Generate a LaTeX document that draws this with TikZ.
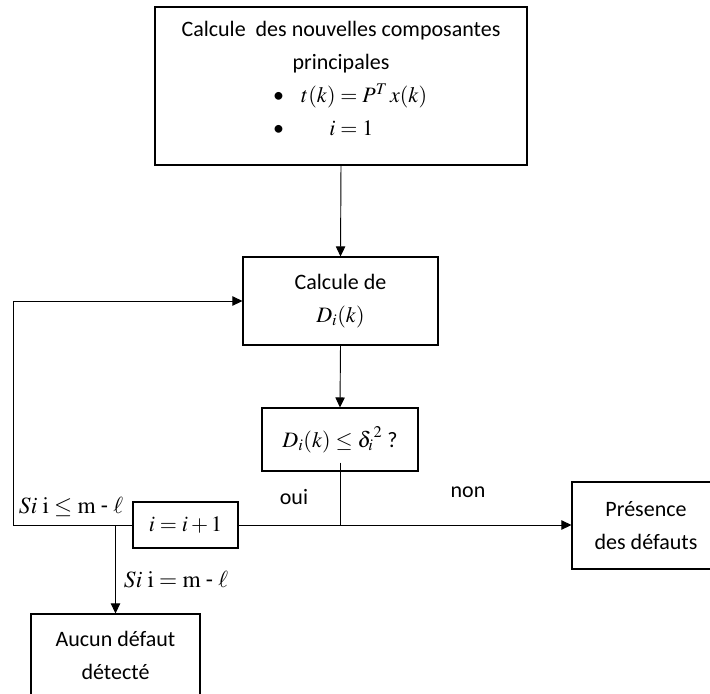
\documentclass[tikz,border=0pt]{standalone}
\usepackage{mathptmx}
\usepackage{fontspec}
\setmainfont{Carlito}
\usetikzlibrary{arrows.meta, positioning, calc}

\tikzset{
  bloc/.style={draw, line width=0.8pt, align=center, inner sep=0pt},
  fleche/.style={-{Triangle[length=7.5pt,width=7pt]}, line width=0.7pt},
  trait/.style={line width=0.7pt},
  etiq/.style={font=\fontsize{17.5}{20}\selectfont}
}

\begin{document}
\begin{tikzpicture}[x=0.75pt, y=0.75pt, font=\fontsize{16.5}{24.75}\selectfont]
  \useasboundingbox (0,0) rectangle (710,-693);

  % Blocs
  \node[bloc, minimum width=279pt, minimum height=118.5pt] (cp) at (341,-86)
    {Calcule\ \ des nouvelles composantes\\ principales\\
     \hspace*{14pt}\makebox[116pt][l]{\textbullet\hspace{13pt}$t(k)=P^{T}\,x(k)$}\\
     \hspace*{14pt}\makebox[116pt][l]{\textbullet\hspace{34pt}$i=1$\rule[-11pt]{0pt}{11pt}}};
  \node[bloc, minimum width=146.25pt, minimum height=66pt] (di) at (340.5,-301)
    {Calcule de\\ $D_i(k)$};
  \node[bloc, minimum width=117pt, minimum height=47.25pt] (test) at (340,-439.5)
    {$D_i(k)\le{\delta_i}^{2}$\ ?};
  \node[bloc, minimum width=78.75pt, minimum height=34.5pt] (incr) at (185.5,-525)
    {$i=i+1$};
  \node[bloc, minimum width=111pt, minimum height=65.25pt] (pres) at (646,-525.5)
    {Pr\'esence\\ des d\'efauts};
  \node[bloc, minimum width=126.75pt, minimum height=61.5pt] (aucun) at (115.5,-655)
    {Aucun d\'efaut\\ d\'etect\'e};

  % Liaisons
  \draw[fleche] (cp.south) -- (di.north);
  \draw[fleche] (di.south) -- (test.north);
  \draw[trait] ([yshift=6.75pt]test.south) -- (test.south |- incr.east);
  \draw[fleche] (incr.east) -- (pres.west |- incr.east);
  \coordinate (retour) at (13,-525);
  \draw[fleche] (incr.west) -- (retour) |- (di.west);
  \coordinate (fin) at (aucun.north |- incr.west);
  \draw[fleche] (fin) -- (aucun.north);

  % Etiquettes
  \node[etiq] (cond1) at (71,-507) {$Si\ \mathrm{i}\le\mathrm{m}$ - $\ell$};
  \node[etiq] (cond2) at (176,-580) {$Si\ \mathrm{i}=\mathrm{m}$ - $\ell$};
  \node (oui) at (294,-497) {oui};
  \node (non) at (468,-492) {non};
\end{tikzpicture}
\end{document}
